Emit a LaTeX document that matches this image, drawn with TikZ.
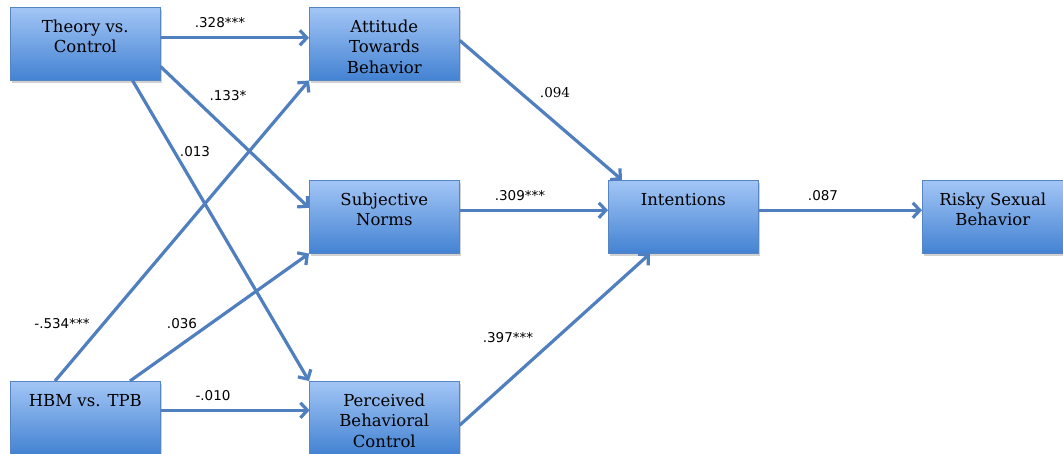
\documentclass[tikz,border=0pt]{standalone}
\usepackage{fontspec}
\usepackage{tikz}
\usetikzlibrary{arrows.meta,calc,shadows}

\newfontfamily\boxfont{DejaVu Serif}
\newfontfamily\wtfont{DejaVu Sans}
\definecolor{boxtop}{HTML}{A3C6F6}
\definecolor{boxbot}{HTML}{4382D2}
\definecolor{boxline}{HTML}{5685C4}
\definecolor{linkcol}{HTML}{4F7FBF}
\newcommand{\boxtext}[1]{\parbox[c][73pt][t]{136pt}{\centering\rule{0pt}{25pt}#1}}

\tikzset{
    varbox/.style={draw=boxline, line width=0.6pt, top color=boxtop, bottom color=boxbot,
        minimum width=150pt, minimum height=73pt, inner sep=0pt, anchor=north west,
        font=\boxfont\fontsize{16.5}{20.5}\selectfont,
        drop shadow={shadow xshift=1.5pt, shadow yshift=-2.5pt, fill=black, opacity=0.18}},
    link/.style={color=linkcol, line width=3.2pt, -{Straight Barb[length=7pt,width=15pt]}},
    wt/.style={font=\wtfont\fontsize{13.5}{15}\selectfont, inner sep=0pt}
}

\begin{document}
\begin{tikzpicture}[x=1pt, y=-1pt]
            \useasboundingbox (0,0) rectangle (1063,454);

            \node[varbox] (theory) at (10,7) {\boxtext{Theory vs.\\Control}};
            \node[varbox] (hbm) at (10,381) {\boxtext{HBM vs. TPB}};
            \node[varbox] (attit) at (309,7) {\boxtext{Attitude\\Towards\\Behavior}};
            \node[varbox] (subj) at (309,180) {\boxtext{Subjective\\Norms}};
            \node[varbox] (perc) at (309,381) {\boxtext{Perceived\\Behavioral\\Control}};
            \node[varbox] (intent) at (608,180) {\boxtext{Intentions}};
            \node[varbox, minimum width=141pt] (risky) at (922,180) {\boxtext{Risky Sexual\\Behavior}};

            \draw[link] ($(theory.east) + (0,-6)$) -- ($(attit.west) + (0,-6)$);
            \draw[link] ($(theory.south east) + (0,-14)$) -- ($(subj.west) + (0,-9)$);
            \draw[link] ($(theory.south east) + (-28,0)$) -- (perc.north west);
            \draw[link] ($(hbm.north west) + (45,0)$) -- (attit.south west);
            \draw[link] ($(hbm.north west) + (120,0)$) -- (subj.south west);
            \draw[link] ($(hbm.east) + (0,-7.5)$) -- ($(perc.east) + (-150,-7.5)$);
            \draw[link] ($(attit.east) + (0,-3.5)$) -- ($(intent.north west) + (14,0)$);
            \draw[link] ($(subj.east) + (0,-6.5)$) -- ($(intent.west) + (0,-6.5)$);
            \draw[link] ($(perc.east) + (0,7.5)$) -- ($(intent.south west) + (42,0)$);
            \draw[link] ($(intent.east) + (0,-6.5)$) -- ($(risky.west) + (0,-6.5)$);

            \node[wt] (w328) at (220,23) {.328***};
            \node[wt] (w133) at (228,96) {.133*};
            \node[wt] (w013) at (195,152) {.013};
            \node[wt] (w534) at (62,324) {-.534***};
            \node[wt] (w036) at (182,324) {.036};
            \node[wt] (w010) at (213,396) {-.010};
            \node[wt, font=\boxfont\fontsize{13.5}{15}\selectfont] (w094) at (555,93) {.094};
            \node[wt] (w309) at (520,196) {.309***};
            \node[wt] (w397) at (508,338) {.397***};
            \node[wt] (w087) at (823,196) {.087};
\end{tikzpicture}
\end{document}
